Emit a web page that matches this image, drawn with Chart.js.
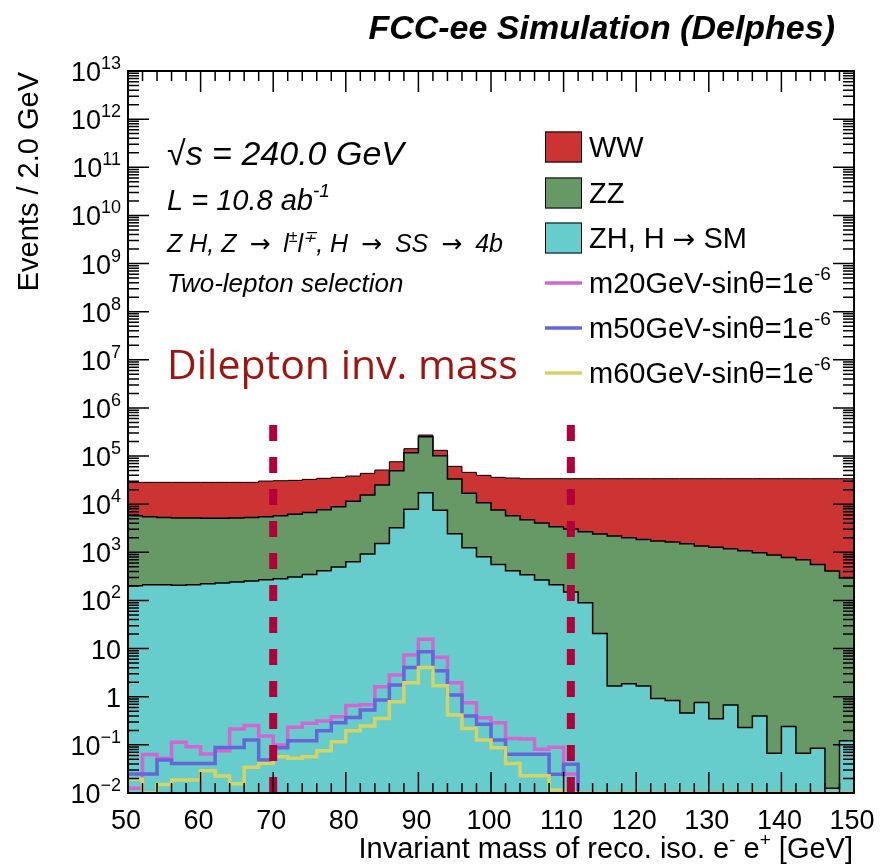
<!DOCTYPE html>
<html>
<head>
<meta charset="utf-8">
<script src="https://cdn.jsdelivr.net/npm/chart.js@4/dist/chart.umd.min.js"></script>
<style>
  body { margin: 0; background: #fff; }
  canvas { display: block; }
</style>
</head>
<body>
<canvas id="c" width="881" height="866"></canvas>
<script>
// binning of the histograms: 50 bins of 2 GeV between 50 and 150 GeV
const binLow = 50;
const binWidth = 2;

// backgrounds, events per bin (not stacked)
const zh = [203, 213, 213, 206, 213, 223, 230, 242, 254, 270,
            283, 307, 348, 415, 495, 638, 923, 1535, 3250, 7820,
            17340, 7450, 2440, 1250, 811, 562, 415, 343, 265, 213,
            150, 90, 20.7, 1.67, 1.86, 1.67, 0.92, 0.84, 0.46, 0.76,
            0.35, 0.67, 0.23, 0.40, 0.067, 0.24, 0.067, 0.085, 0.0125, 0.122];
const zz = [5565, 5282, 5108, 4958, 4951, 4859, 4852, 4922, 5067, 5225,
            5485, 5845, 6413, 7276, 8377, 10817, 14565, 23468, 46409, 109670,
            235010, 94410, 30903, 15538, 9929, 7006, 5353, 4421, 3799, 3199,
            2898, 2595, 2378, 2181, 2012, 1856, 1717, 1636, 1510, 1352,
            1268, 1189, 1081, 982, 879, 785, 703, 562, 408, 292];
const ww = [22677, 22950, 23124, 23281, 23281, 23363, 23363, 23281, 23124, 24774,
            24993, 25109, 26049, 26744, 27269, 27004, 28264, 26283, 26549, 24740,
            21180, 29660, 27751, 29132, 28979, 28573, 29227, 29120, 29820, 30472,
            30836, 31199, 31485, 31701, 31870, 32026, 32166, 32247, 32374, 32532,
            32616, 32695, 32803, 32902, 33005, 33099, 33181, 33322, 33476, 33592];

// signals
const m20 = [0.0126, 0.0634, 0.0525, 0.113, 0.0914, 0.0646, 0.0759, 0.213, 0.254, 0.152,
             0.099, 0.231, 0.280, 0.313, 0.384, 0.661, 0.682, 1.61, 2.82, 7.35,
             15.6, 6.58, 1.95, 0.75, 0.366, 0.288, 0.136, 0.132, 0.0807, 0.0887,
             0.0248, 0, 0, 0, 0, 0, 0, 0, 0, 0,
             0, 0, 0, 0, 0, 0, 0, 0, 0, 0];
const m50 = [0.0248, 0.0248, 0.0483, 0.0412, 0.0412, 0.0412, 0.0879, 0.0879, 0.126, 0.0483,
             0.0871, 0.122, 0.122, 0.196, 0.288, 0.372, 0.528, 0.851, 1.75, 4.07,
             8.61, 3.47, 1.08, 0.398, 0.269, 0.126, 0.0635, 0.0635, 0.0635, 0.0244,
             0.0398, 0, 0, 0, 0, 0, 0, 0, 0, 0,
             0, 0, 0, 0, 0, 0, 0, 0, 0, 0];
const m60 = [0.0192, 0, 0.0151, 0.0186, 0.0186, 0.029, 0.0225, 0.0155, 0.0341, 0.0412,
             0.0568, 0.0525, 0.0568, 0.0759, 0.116, 0.196, 0.246, 0.355, 0.787, 1.95,
             4.07, 1.69, 0.417, 0.220, 0.126, 0.0871, 0.0412, 0.0229, 0.0229, 0.0115,
             0, 0, 0, 0, 0, 0, 0, 0, 0, 0,
             0, 0, 0, 0, 0, 0, 0, 0, 0, 0];

// mass window cuts
const cuts = [70, 111];
const cutTop = 4.4e5;

const xMin = 50, xMax = 150;
const yMin = 1e-2, yMax = 1e13;
const xLabels = [50, 60, 70, 80, 90, 100, 110, 120, 130, 140, 150];
const yExps = [-2, -1, 0, 1, 2, 3, 4, 5, 6, 7, 8, 9, 10, 11, 12, 13];

const FONT = '"Liberation Sans", Arial, Helvetica, sans-serif';
const ARROW = '"DejaVu Sans", sans-serif';

// step points: left edge of every bin plus the right edge of the last one
function histPoints(vals) {
    let pts = vals.map((v, i) => ({x: binLow + i * binWidth, y: Math.max(v, yMin)}));
    pts.push({x: binLow + vals.length * binWidth, y: Math.max(vals[vals.length - 1], yMin)});
    return pts;
}

function stackSum(...lists) {
    return lists[0].map((_, i) => lists.reduce((s, l) => s + l[i], 0));
}

const zhTop = zh;
const zzTop = stackSum(zh, zz);
const wwTop = stackSum(zh, zz, ww);

function histSet(label, vals, color, fill, order, width) {
    return {
        label: label,
        data: histPoints(vals),
        stepped: 'before',
        borderColor: fill ? '#000' : color,
        backgroundColor: color,
        borderWidth: width,
        fill: fill ? 'start' : false,
        pointRadius: 0,
        order: order
    };
}

function cutSet(x) {
    return {
        data: [{x: x, y: yMin}, {x: x, y: cutTop}],
        borderColor: '#b2003a',
        borderWidth: 8,
        borderDash: [16, 16],
        pointRadius: 0,
        fill: false,
        order: 1
    };
}

function partsWidth(ctx, parts) {
    let w = 0;
    parts.forEach(p => {
        ctx.font = p.font;
        w += ctx.measureText(p.t).width + (p.dx || 0);
    });
    return w;
}

function drawParts(ctx, parts, x, y, align) {
    let w = partsWidth(ctx, parts);
    let cx = x;
    if (align === 'right') cx = x - w;
    if (align === 'center') cx = x - w / 2;
    ctx.textAlign = 'left';
    ctx.textBaseline = 'alphabetic';
    parts.forEach(p => {
        ctx.font = p.font;
        ctx.fillStyle = p.color || '#000';
        ctx.fillText(p.t, cx, y + (p.dy || 0));
        cx += ctx.measureText(p.t).width + (p.dx || 0);
    });
}

const rootStyle = {
    id: 'rootStyle',
    afterDatasetsDraw(chart) {
        const ctx = chart.ctx;
        const xs = chart.scales.x, ys = chart.scales.y;
        const a = chart.chartArea;
        ctx.save();

        // ticks inside the frame, on all four sides
        ctx.strokeStyle = '#000';
        ctx.lineWidth = 1.5;
        ctx.beginPath();
        for (let v = xMin; v <= xMax; v += 2) {
            let px = xs.getPixelForValue(v);
            let len = (v % 10 === 0) ? 21 : 10;
            ctx.moveTo(px, a.bottom); ctx.lineTo(px, a.bottom - len);
            ctx.moveTo(px, a.top); ctx.lineTo(px, a.top + len);
        }
        for (let e = -2; e < 13; e++) {
            for (let k = 1; k <= 9; k++) {
                let py = ys.getPixelForValue(k * Math.pow(10, e));
                let len = (k === 1) ? 21 : 11;
                ctx.moveTo(a.left, py); ctx.lineTo(a.left + len, py);
                ctx.moveTo(a.right, py); ctx.lineTo(a.right - len, py);
            }
        }
        ctx.stroke();

        // frame
        ctx.lineWidth = 2;
        ctx.strokeRect(a.left, a.top, a.right - a.left, a.bottom - a.top);

        // x tick labels
        ctx.fillStyle = '#000';
        ctx.font = '27px ' + FONT;
        ctx.textAlign = 'center';
        ctx.textBaseline = 'alphabetic';
        xLabels.forEach(v => ctx.fillText(String(v), xs.getPixelForValue(v) - 2, 829));

        // y tick labels
        const big = '27px ' + FONT, small = '18px ' + FONT;
        yExps.forEach(e => {
            let py = ys.getPixelForValue(Math.pow(10, e));
            let parts;
            if (e === 0) parts = [{t: '1', font: big}];
            else if (e === 1) parts = [{t: '10', font: big}];
            else parts = [{t: '10', font: big}, {t: (e < 0 ? '\u2212' : '') + Math.abs(e), font: small, dy: -12}];
            drawParts(ctx, parts, 121, py + 10, 'right');
        });

        // axis titles
        const tf = '29px ' + FONT, ts = '19px ' + FONT;
        drawParts(ctx, [
            {t: 'Invariant mass of reco. iso. e', font: tf},
            {t: '-', font: ts, dy: -12},
            {t: ' e', font: tf},
            {t: '+', font: ts, dy: -12},
            {t: ' [GeV]', font: tf}
        ], 853, 858, 'right');
        ctx.save();
        ctx.translate(38, 72);
        ctx.rotate(-Math.PI / 2);
        ctx.font = '29px ' + FONT;
        ctx.textAlign = 'right';
        ctx.fillStyle = '#000';
        ctx.fillText('Events / 2.0 GeV', 0, 0);
        ctx.restore();

        // title
        ctx.font = 'italic bold 34px ' + FONT;
        ctx.textAlign = 'right';
        ctx.fillText('FCC-ee Simulation (Delphes)', 835, 39);

        // labels in the plot
        const it = s => 'italic ' + s + 'px ' + FONT;
        const ar = s => s + 'px ' + ARROW;
        drawParts(ctx, [{t: '\u221As = 240.0 GeV', font: it(34)}], 167, 165, 'left');
        drawParts(ctx, [{t: 'L = 10.8 ab', font: it(29)}, {t: '-1', font: it(19), dy: -13}], 167, 210, 'left');
        drawParts(ctx, [
            {t: 'Z H, Z ', font: it(25), dx: 6},
            {t: '\u2192', font: ar(25), dx: 6},
            {t: ' l', font: it(25)},
            {t: '\u00B1', font: it(16), dy: -10},
            {t: 'l', font: it(25)},
            {t: '\u2213', font: it(16), dy: -10},
            {t: ', H ', font: it(25), dx: 6},
            {t: '\u2192', font: ar(25), dx: 6},
            {t: ' SS ', font: it(25), dx: 6},
            {t: '\u2192', font: ar(25), dx: 6},
            {t: ' 4b', font: it(25)}
        ], 167, 252, 'left');
        drawParts(ctx, [{t: 'Two-lepton selection', font: it(26)}], 167, 292, 'left');
        drawParts(ctx, [{t: 'Dilepton inv. mass', font: '41px "Open Sans", Lato, sans-serif', color: '#9e1410'}], 167, 379, 'left');

        // legend
        const lx = 545, lw = 37, rowY = [147, 193, 238, 283, 328, 373];
        const lf = '29px ' + FONT, lsf = '19px ' + FONT;
        const boxes = [
            [[{t: 'WW', font: lf}], '#cc3333'],
            [[{t: 'ZZ', font: lf}], '#669966'],
            [[{t: 'ZH, H ', font: lf}, {t: '\u2192', font: ar(27)}, {t: ' SM', font: lf}], '#66cccc']
        ];
        boxes.forEach((b, i) => {
            ctx.fillStyle = b[1];
            ctx.fillRect(lx, rowY[i] - 15.5, lw, 31);
            ctx.strokeStyle = '#000';
            ctx.lineWidth = 1;
            ctx.strokeRect(lx + 0.5, rowY[i] - 15, lw - 1, 30);
            drawParts(ctx, b[0], 589, rowY[i] + 10, 'left');
        });
        const lines = [['m20', '#d466d4'], ['m50', '#6666d6'], ['m60', '#d4d466']];
        lines.forEach((l, i) => {
            let y = rowY[3 + i];
            ctx.strokeStyle = l[1];
            ctx.lineWidth = 3.5;
            ctx.beginPath();
            ctx.moveTo(lx, y); ctx.lineTo(lx + lw, y);
            ctx.stroke();
            drawParts(ctx, [
                {t: l[0] + 'GeV-sin\u03B8=1e', font: lf},
                {t: '-6', font: lsf, dy: -13}
            ], 589, y + 10, 'left');
        });

        ctx.restore();
    }
};

new Chart(document.getElementById('c').getContext('2d'), {
    type: 'line',
    data: {
        datasets: [
            histSet('WW', wwTop, '#cc3333', true, 10, 1),
            histSet('ZZ', zzTop, '#669966', true, 9, 1.5),
            histSet('ZH, H \u2192 SM', zhTop, '#66cccc', true, 8, 1.5),
            histSet('m20GeV', m20, '#d466d4', false, 7, 3.5),
            histSet('m50GeV', m50, '#6666d6', false, 6, 3.5),
            histSet('m60GeV', m60, '#d4d466', false, 5, 3.5),
            cutSet(cuts[0]),
            cutSet(cuts[1])
        ]
    },
    options: {
        responsive: false,
        devicePixelRatio: 1,
        animation: false,
        layout: {padding: {left: 128, top: 71, right: 27, bottom: 73}},
        elements: {line: {tension: 0}},
        scales: {
            x: {type: 'linear', min: xMin, max: xMax, display: false},
            y: {type: 'logarithmic', min: yMin, max: yMax, display: false}
        },
        plugins: {
            legend: {display: false},
            tooltip: {enabled: false}
        }
    },
    plugins: [rootStyle]
});
</script>
</body>
</html>
